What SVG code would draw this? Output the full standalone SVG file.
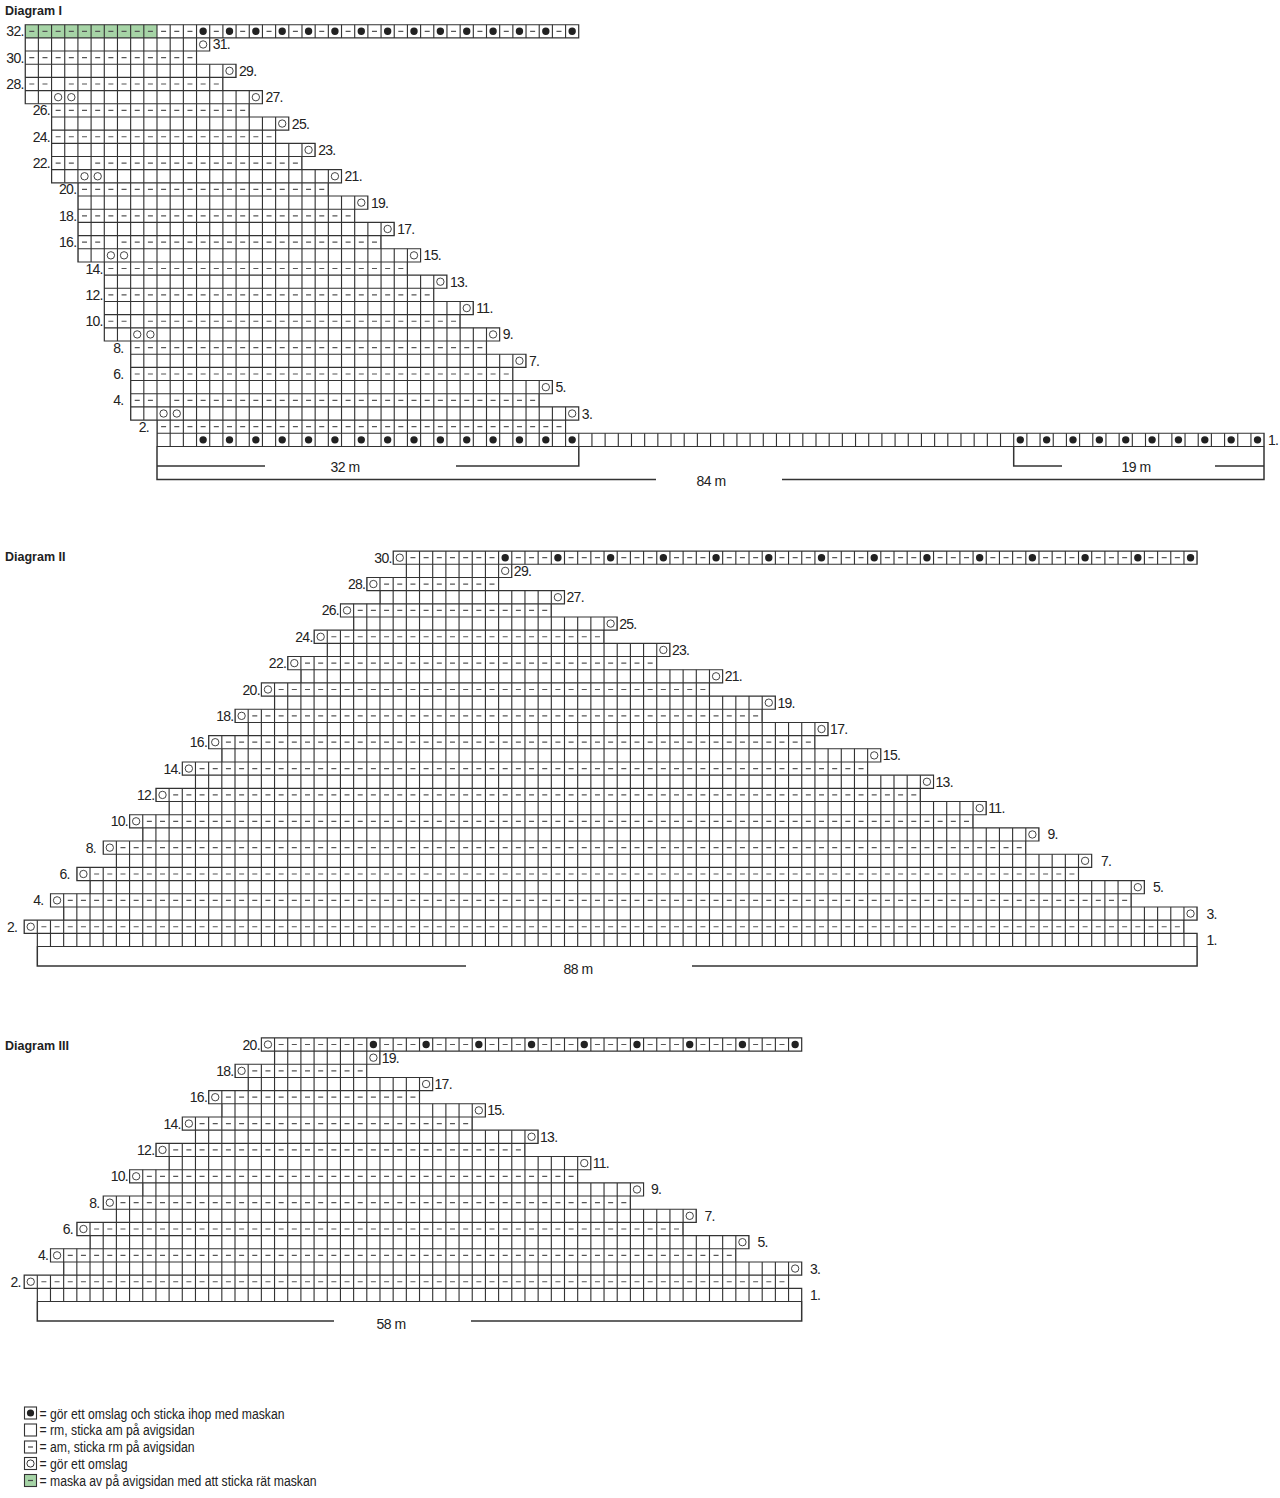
<svg xmlns="http://www.w3.org/2000/svg" width="1280" height="1498" viewBox="0 0 1280 1498">
<style>
text{font-family:"Liberation Sans",Arial,sans-serif;fill:#222}
.lbl{font-size:14px;letter-spacing:-0.7px}
.end{text-anchor:end}
.ttl{font-size:12.5px;font-weight:bold}
.mm{font-size:14px;text-anchor:middle;letter-spacing:-0.5px}
.leg{font-size:14px}
.ol{fill:none;stroke:#333;stroke-width:0.085}
.v{fill:none;stroke:#333;stroke-width:1;stroke-dasharray:0.085 0.915;stroke-dashoffset:0.0425}
.d{fill:none;stroke:#555;stroke-width:0.09;stroke-dasharray:0.38 0.62}
.d2{fill:none;stroke:#555;stroke-width:0.09;stroke-dasharray:0.38 1.62}
.d3{fill:none;stroke:#555;stroke-width:0.09;stroke-dasharray:0.38 0.62 0.38 0.62 0.38 1.62}
.dt2{fill:none;stroke:#222;stroke-width:0.56;stroke-linecap:round;stroke-dasharray:0 2}
.dt4{fill:none;stroke:#222;stroke-width:0.56;stroke-linecap:round;stroke-dasharray:0 4}
.o{fill:none;stroke:#333;stroke-width:0.07}
.grn{fill:#a6d4a6}
.br{fill:none;stroke:#333;stroke-width:1.5}
.lb{fill:#fff;stroke:#333;stroke-width:1.1}
</style>
<rect width="1280" height="1498" fill="#fff"/>

<!-- ================= Diagram I ================= -->
<g id="diagram1">
<text class="ttl" x="5" y="14.5">Diagram I</text>
<g id="d1-grid" transform="translate(157 24.7) scale(13.18)">
<rect class="grn" x="-10" y="0" width="10" height="1"/>
<path class="ol" d="M-10 0h42v1h-42z M-10 1h14v1h-14z M-10 2h13v1h-13z M-10 3h16v1h-16z M-10 4h15v1h-15z M-10 5h18v1h-18z M-8 6h15v1h-15z M-8 7h18v1h-18z M-8 8h17v1h-17z M-8 9h20v1h-20z M-8 10h19v1h-19z M-8 11h22v1h-22z M-6 12h19v1h-19z M-6 13h22v1h-22z M-6 14h21v1h-21z M-6 15h24v1h-24z M-6 16h23v1h-23z M-6 17h26v1h-26z M-4 18h23v1h-23z M-4 19h26v1h-26z M-4 20h25v1h-25z M-4 21h28v1h-28z M-4 22h27v1h-27z M-4 23h30v1h-30z M-2 24h27v1h-27z M-2 25h30v1h-30z M-2 26h29v1h-29z M-2 27h32v1h-32z M-2 28h31v1h-31z M-2 29h34v1h-34z M0 30h31v1h-31z M0 31h84v1h-84z"/>
<path class="v" d="M-10 .5H32 M-10 1.5H4 M-10 2.5H3 M-10 3.5H6 M-10 4.5H5 M-10 5.5H8 M-8 6.5H7 M-8 7.5H10 M-8 8.5H9 M-8 9.5H12 M-8 10.5H11 M-8 11.5H14 M-6 12.5H13 M-6 13.5H16 M-6 14.5H15 M-6 15.5H18 M-6 16.5H17 M-6 17.5H20 M-4 18.5H19 M-4 19.5H22 M-4 20.5H21 M-4 21.5H24 M-4 22.5H23 M-4 23.5H26 M-2 24.5H25 M-2 25.5H28 M-2 26.5H27 M-2 27.5H30 M-2 28.5H29 M-2 29.5H32 M0 30.5H31 M0 31.5H84"/>
<path class="d" d="M-9.69 .5H2.69 M-9.69 2.5H2.69 M-9.69 4.5H-8.31 M-6.69 4.5H4.69 M-7.69 6.5H6.69 M-7.69 8.5H8.69 M-7.69 10.5H-6.31 M-4.69 10.5H10.69 M-5.69 12.5H12.69 M-5.69 14.5H14.69 M-5.69 16.5H-4.31 M-2.69 16.5H16.69 M-3.69 18.5H18.69 M-3.69 20.5H20.69 M-3.69 22.5H-2.31 M-.69 22.5H22.69 M-1.69 24.5H24.69 M-1.69 26.5H26.69 M-1.69 28.5H-.31 M1.31 28.5H28.69 M.31 30.5H30.69"/>
<path class="d2" d="M4.31 .5H31"/>
<path class="dt2" d="M3.5 .5H32 M3.5 31.5H32 M65.5 31.5H84"/>
<g class="o">
<circle cx="3.5" cy="1.5" r="0.28"/><circle cx="5.5" cy="3.5" r="0.28"/>
<circle cx="-7.5" cy="5.5" r="0.28"/><circle cx="-6.5" cy="5.5" r="0.28"/><circle cx="7.5" cy="5.5" r="0.28"/>
<circle cx="9.5" cy="7.5" r="0.28"/><circle cx="11.5" cy="9.5" r="0.28"/>
<circle cx="-5.5" cy="11.5" r="0.28"/><circle cx="-4.5" cy="11.5" r="0.28"/><circle cx="13.5" cy="11.5" r="0.28"/>
<circle cx="15.5" cy="13.5" r="0.28"/><circle cx="17.5" cy="15.5" r="0.28"/>
<circle cx="-3.5" cy="17.5" r="0.28"/><circle cx="-2.5" cy="17.5" r="0.28"/><circle cx="19.5" cy="17.5" r="0.28"/>
<circle cx="21.5" cy="19.5" r="0.28"/><circle cx="23.5" cy="21.5" r="0.28"/>
<circle cx="-1.5" cy="23.5" r="0.28"/><circle cx="-0.5" cy="23.5" r="0.28"/><circle cx="25.5" cy="23.5" r="0.28"/>
<circle cx="27.5" cy="25.5" r="0.28"/><circle cx="29.5" cy="27.5" r="0.28"/>
<circle cx="0.5" cy="29.5" r="0.28"/><circle cx="1.5" cy="29.5" r="0.28"/><circle cx="31.5" cy="29.5" r="0.28"/>
</g>
</g>
<g id="d1-labels" class="lbl">
<text class="end" x="23.7" y="36.3">32.</text>
<text class="end" x="23.7" y="62.66">30.</text>
<text class="end" x="23.7" y="89.02">28.</text>
<text class="end" x="50" y="115.38">26.</text>
<text class="end" x="50" y="141.74">24.</text>
<text class="end" x="50" y="168.1">22.</text>
<text class="end" x="76.4" y="194.46">20.</text>
<text class="end" x="76.4" y="220.82">18.</text>
<text class="end" x="76.4" y="247.18">16.</text>
<text class="end" x="102.8" y="273.54">14.</text>
<text class="end" x="102.8" y="299.9">12.</text>
<text class="end" x="102.8" y="326.26">10.</text>
<text class="end" x="123.5" y="352.62">8.</text>
<text class="end" x="123.5" y="378.98">6.</text>
<text class="end" x="123.5" y="405.34">4.</text>
<text class="end" x="149" y="431.7">2.</text>
<text x="212.7" y="49.48">31.</text>
<text x="239" y="75.84">29.</text>
<text x="265.4" y="102.2">27.</text>
<text x="291.8" y="128.56">25.</text>
<text x="318.2" y="154.92">23.</text>
<text x="344.5" y="181.28">21.</text>
<text x="370.9" y="207.64">19.</text>
<text x="397.2" y="234">17.</text>
<text x="423.6" y="260.36">15.</text>
<text x="450" y="286.72">13.</text>
<text x="476.3" y="313.08">11.</text>
<text x="502.7" y="339.44">9.</text>
<text x="529" y="365.8">7.</text>
<text x="555.4" y="392.16">5.</text>
<text x="581.8" y="418.52">3.</text>
<text x="1268" y="444.88">1.</text>
</g>
<g id="d1-brackets">
<path class="br" d="M157 446.5V466H265 M456 466H578.8V446.5 M157 466V479.5H656 M782 479.5H1264V446.5 M1013.7 446.5V466H1062 M1215 466H1264"/>
<text class="mm" x="345" y="471.5">32 m</text>
<text class="mm" x="711" y="486">84 m</text>
<text class="mm" x="1136" y="471.5">19 m</text>
</g>
</g>

<!-- ================= Diagram II ================= -->
<g id="diagram2">
<text class="ttl" x="5" y="560.5">Diagram II</text>
<g id="d2-grid" transform="translate(37.3 551.1) scale(13.18)">
<path class="ol" d="M27 0h61v1h-61z M28 1h8v1h-8z M25 2h10v1h-10z M26 3h14v1h-14z M23 4h16v1h-16z M24 5h20v1h-20z M21 6h22v1h-22z M22 7h26v1h-26z M19 8h28v1h-28z M20 9h32v1h-32z M17 10h34v1h-34z M18 11h38v1h-38z M15 12h40v1h-40z M16 13h44v1h-44z M13 14h46v1h-46z M14 15h50v1h-50z M11 16h52v1h-52z M12 17h56v1h-56z M9 18h58v1h-58z M10 19h62v1h-62z M7 20h64v1h-64z M8 21h68v1h-68z M5 22h70v1h-70z M6 23h74v1h-74z M3 24h76v1h-76z M4 25h80v1h-80z M1 26h82v1h-82z M2 27h86v1h-86z M-1 28h88v1h-88z M0 29h88v1h-88z"/>
<path class="v" d="M27 .5H88 M28 1.5H36 M25 2.5H35 M26 3.5H40 M23 4.5H39 M24 5.5H44 M21 6.5H43 M22 7.5H48 M19 8.5H47 M20 9.5H52 M17 10.5H51 M18 11.5H56 M15 12.5H55 M16 13.5H60 M13 14.5H59 M14 15.5H64 M11 16.5H63 M12 17.5H68 M9 18.5H67 M10 19.5H72 M7 20.5H71 M8 21.5H76 M5 22.5H75 M6 23.5H80 M3 24.5H79 M4 25.5H84 M1 26.5H83 M2 27.5H88 M-1 28.5H87 M0 29.5H88"/>
<path class="d" d="M28.31 .5H34.69 M26.31 2.5H34.69 M24.31 4.5H38.69 M22.31 6.5H42.69 M20.31 8.5H46.69 M18.31 10.5H50.69 M16.31 12.5H54.69 M14.31 14.5H58.69 M12.31 16.5H62.69 M10.31 18.5H66.69 M8.31 20.5H70.69 M6.31 22.5H74.69 M4.31 24.5H78.69 M2.31 26.5H82.69 M.31 28.5H86.69"/>
<path class="d3" d="M36.31 .5H87"/>
<path class="dt4" d="M35.5 .5H88"/>
<g class="o">
<circle cx="27.5" cy=".5" r="0.28"/><circle cx="25.5" cy="2.5" r="0.28"/><circle cx="23.5" cy="4.5" r="0.28"/><circle cx="21.5" cy="6.5" r="0.28"/><circle cx="19.5" cy="8.5" r="0.28"/><circle cx="17.5" cy="10.5" r="0.28"/><circle cx="15.5" cy="12.5" r="0.28"/><circle cx="13.5" cy="14.5" r="0.28"/><circle cx="11.5" cy="16.5" r="0.28"/><circle cx="9.5" cy="18.5" r="0.28"/><circle cx="7.5" cy="20.5" r="0.28"/><circle cx="5.5" cy="22.5" r="0.28"/><circle cx="3.5" cy="24.5" r="0.28"/><circle cx="1.5" cy="26.5" r="0.28"/><circle cx="-0.5" cy="28.5" r="0.28"/>
<circle cx="35.5" cy="1.5" r="0.28"/><circle cx="39.5" cy="3.5" r="0.28"/><circle cx="43.5" cy="5.5" r="0.28"/><circle cx="47.5" cy="7.5" r="0.28"/><circle cx="51.5" cy="9.5" r="0.28"/><circle cx="55.5" cy="11.5" r="0.28"/><circle cx="59.5" cy="13.5" r="0.28"/><circle cx="63.5" cy="15.5" r="0.28"/><circle cx="67.5" cy="17.5" r="0.28"/><circle cx="71.5" cy="19.5" r="0.28"/><circle cx="75.5" cy="21.5" r="0.28"/><circle cx="79.5" cy="23.5" r="0.28"/><circle cx="83.5" cy="25.5" r="0.28"/><circle cx="87.5" cy="27.5" r="0.28"/>
</g>
</g>
<g id="d2-labels" class="lbl">
<text class="end" x="391.7" y="562.7">30.</text>
<text class="end" x="365.3" y="589.06">28.</text>
<text class="end" x="339" y="615.42">26.</text>
<text class="end" x="312.6" y="641.78">24.</text>
<text class="end" x="286.2" y="668.14">22.</text>
<text class="end" x="259.9" y="694.5">20.</text>
<text class="end" x="233.5" y="720.86">18.</text>
<text class="end" x="207.1" y="747.22">16.</text>
<text class="end" x="180.8" y="773.58">14.</text>
<text class="end" x="154.4" y="799.94">12.</text>
<text class="end" x="128" y="826.3">10.</text>
<text class="end" x="96" y="852.66">8.</text>
<text class="end" x="69.8" y="879.02">6.</text>
<text class="end" x="43.5" y="905.38">4.</text>
<text class="end" x="17.2" y="931.74">2.</text>
<text x="513.8" y="575.88">29.</text>
<text x="566.5" y="602.24">27.</text>
<text x="619.2" y="628.6">25.</text>
<text x="671.9" y="654.96">23.</text>
<text x="724.7" y="681.32">21.</text>
<text x="777.4" y="707.68">19.</text>
<text x="830.1" y="734.04">17.</text>
<text x="882.8" y="760.4">15.</text>
<text x="935.5" y="786.76">13.</text>
<text x="988.3" y="813.12">11.</text>
<text x="1047.5" y="839.48">9.</text>
<text x="1101" y="865.84">7.</text>
<text x="1153" y="892.2">5.</text>
<text x="1206.5" y="918.56">3.</text>
<text x="1206.5" y="944.92">1.</text>
</g>
<g id="d2-brackets">
<path class="br" d="M37.3 946.6V966H466 M692 966H1197.1V946.6"/>
<text class="mm" x="578" y="973.5">88 m</text>
</g>
</g>

<!-- ================= Diagram III ================= -->
<g id="diagram3">
<text class="ttl" x="5" y="1049.5">Diagram III</text>
<g id="d3-grid" transform="translate(37.3 1037.9) scale(13.18)">
<path class="ol" d="M17 0h41v1h-41z M18 1h8v1h-8z M15 2h10v1h-10z M16 3h14v1h-14z M13 4h16v1h-16z M14 5h20v1h-20z M11 6h22v1h-22z M12 7h26v1h-26z M9 8h28v1h-28z M10 9h32v1h-32z M7 10h34v1h-34z M8 11h38v1h-38z M5 12h40v1h-40z M6 13h44v1h-44z M3 14h46v1h-46z M4 15h50v1h-50z M1 16h52v1h-52z M2 17h56v1h-56z M-1 18h58v1h-58z M0 19h58v1h-58z"/>
<path class="v" d="M17 .5H58 M18 1.5H26 M15 2.5H25 M16 3.5H30 M13 4.5H29 M14 5.5H34 M11 6.5H33 M12 7.5H38 M9 8.5H37 M10 9.5H42 M7 10.5H41 M8 11.5H46 M5 12.5H45 M6 13.5H50 M3 14.5H49 M4 15.5H54 M1 16.5H53 M2 17.5H58 M-1 18.5H57 M0 19.5H58"/>
<path class="d" d="M18.31 .5H24.69 M16.31 2.5H24.69 M14.31 4.5H28.69 M12.31 6.5H32.69 M10.31 8.5H36.69 M8.31 10.5H40.69 M6.31 12.5H44.69 M4.31 14.5H48.69 M2.31 16.5H52.69 M.31 18.5H56.69"/>
<path class="d3" d="M26.31 .5H57"/>
<path class="dt4" d="M25.5 .5H58"/>
<g class="o">
<circle cx="17.5" cy=".5" r="0.28"/><circle cx="15.5" cy="2.5" r="0.28"/><circle cx="13.5" cy="4.5" r="0.28"/><circle cx="11.5" cy="6.5" r="0.28"/><circle cx="9.5" cy="8.5" r="0.28"/><circle cx="7.5" cy="10.5" r="0.28"/><circle cx="5.5" cy="12.5" r="0.28"/><circle cx="3.5" cy="14.5" r="0.28"/><circle cx="1.5" cy="16.5" r="0.28"/><circle cx="-0.5" cy="18.5" r="0.28"/>
<circle cx="25.5" cy="1.5" r="0.28"/><circle cx="29.5" cy="3.5" r="0.28"/><circle cx="33.5" cy="5.5" r="0.28"/><circle cx="37.5" cy="7.5" r="0.28"/><circle cx="41.5" cy="9.5" r="0.28"/><circle cx="45.5" cy="11.5" r="0.28"/><circle cx="49.5" cy="13.5" r="0.28"/><circle cx="53.5" cy="15.5" r="0.28"/><circle cx="57.5" cy="17.5" r="0.28"/>
</g>
</g>
<g id="d3-labels" class="lbl">
<text class="end" x="259.9" y="1049.5">20.</text>
<text class="end" x="233.5" y="1075.86">18.</text>
<text class="end" x="207.1" y="1102.22">16.</text>
<text class="end" x="180.8" y="1128.58">14.</text>
<text class="end" x="154.4" y="1154.94">12.</text>
<text class="end" x="128" y="1181.3">10.</text>
<text class="end" x="99.5" y="1207.66">8.</text>
<text class="end" x="73" y="1234.02">6.</text>
<text class="end" x="48.3" y="1260.38">4.</text>
<text class="end" x="20.7" y="1286.74">2.</text>
<text x="381.7" y="1062.68">19.</text>
<text x="434.5" y="1089.04">17.</text>
<text x="487.2" y="1115.4">15.</text>
<text x="540" y="1141.76">13.</text>
<text x="592.7" y="1168.12">11.</text>
<text x="651" y="1194.48">9.</text>
<text x="704.5" y="1220.84">7.</text>
<text x="757.5" y="1247.2">5.</text>
<text x="810" y="1273.56">3.</text>
<text x="810" y="1299.92">1.</text>
</g>
<g id="d3-brackets">
<path class="br" d="M37.3 1301.6V1321H334 M471 1321H801.7V1301.6"/>
<text class="mm" x="391" y="1328.5">58 m</text>
</g>
</g>

<!-- ================= Legend ================= -->
<g id="legend">
<g id="leg-dot"><rect class="lb" x="24.5" y="1407" width="12" height="12"/><circle cx="30.5" cy="1413" r="3.6" fill="#222"/>
<text class="leg" x="39.5" y="1418.5" textLength="245" lengthAdjust="spacingAndGlyphs">= gör ett omslag och sticka ihop med maskan</text></g>
<g id="leg-blank"><rect class="lb" x="24.5" y="1424" width="12" height="12"/>
<text class="leg" x="39.5" y="1435" textLength="155" lengthAdjust="spacingAndGlyphs">= rm, sticka am på avigsidan</text></g>
<g id="leg-dash"><rect class="lb" x="24.5" y="1441" width="12" height="12"/><line x1="28" y1="1447" x2="33" y2="1447" stroke="#444" stroke-width="1.2"/>
<text class="leg" x="39.5" y="1452" textLength="155" lengthAdjust="spacingAndGlyphs">= am, sticka rm på avigsidan</text></g>
<g id="leg-yo"><rect class="lb" x="24.5" y="1457.5" width="12" height="12"/><circle cx="30.5" cy="1463.5" r="3.6" fill="none" stroke="#333" stroke-width="1"/>
<text class="leg" x="39.5" y="1468.5" textLength="88" lengthAdjust="spacingAndGlyphs">= gör ett omslag</text></g>
<g id="leg-green"><rect class="lb" x="24.5" y="1474.5" width="12" height="12" style="fill:#a6d4a6"/><line x1="28" y1="1480.5" x2="33" y2="1480.5" stroke="#444" stroke-width="1.2"/>
<text class="leg" x="39.5" y="1485.5" textLength="277" lengthAdjust="spacingAndGlyphs">= maska av på avigsidan med att sticka rät maskan</text></g>
</g>
</svg>
